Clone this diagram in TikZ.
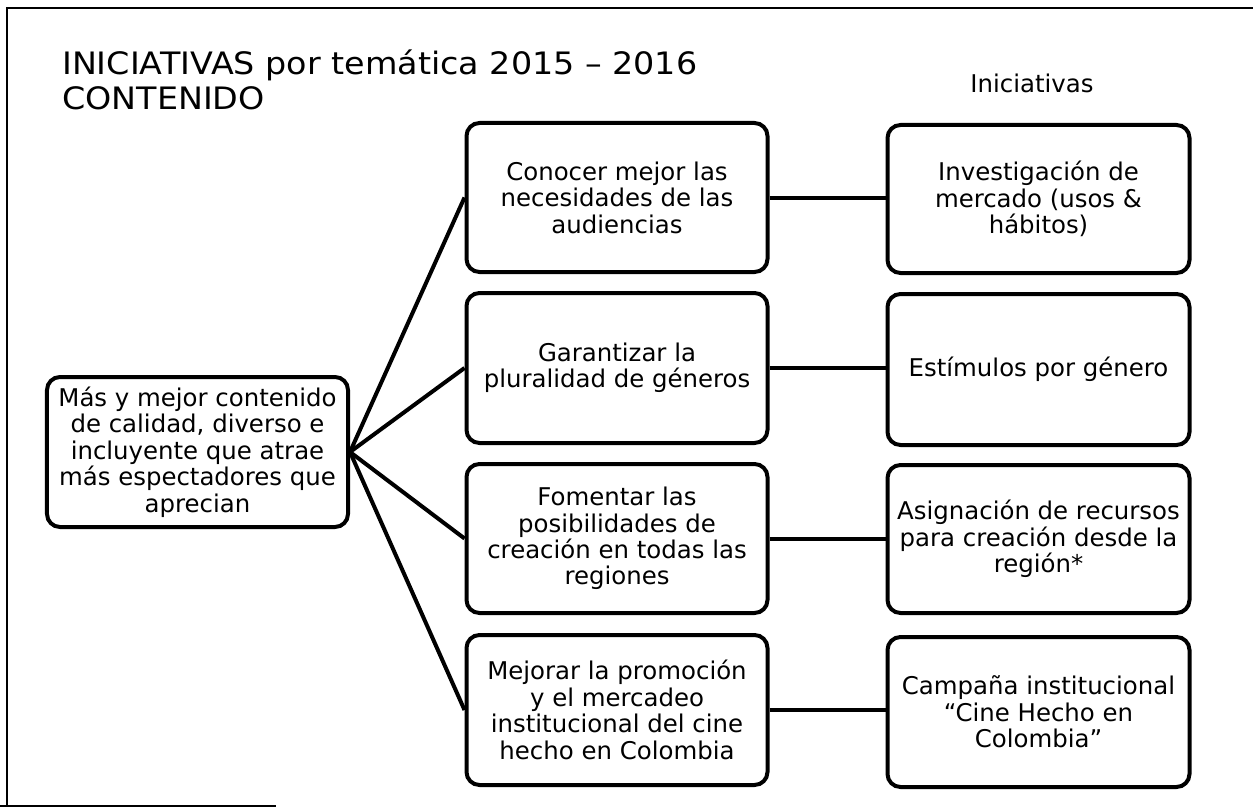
\documentclass[tikz,border=0pt]{standalone}
\usepackage{fontspec}
\setmainfont{DejaVu Sans}
\newfontfamily\titlefont[FakeStretch=1.08]{DejaVu Sans}
\begin{document}
\begin{tikzpicture}[x=1bp,y=-1bp,
  box/.style={draw=black, line width=4bp, rounded corners=13bp, inner sep=0pt, align=center,
    minimum width=301bp, font=\fontsize{24.5}{26.5}\selectfont},
  link/.style={draw=black, line width=4bp},
  frameline/.style={draw=black, line width=1.8bp},
  titletext/.style={anchor=base west, inner sep=0pt, font=\titlefont\fontsize{31}{35}\selectfont}]
\useasboundingbox (0,0) rectangle (1253,808);
\fill[white] (0,0) rectangle (1253,808);
\coordinate (f1) at (7,806);
\coordinate (f2) at (7,8);
\coordinate (f3) at (1253,8);
\coordinate (b1) at (0,806);
\coordinate (b2) at (276,806);
\draw[frameline] (f1) -- (f2) -- (f3);
\draw[frameline] (b1) -- (b2);

\node[titletext] (t1) at (62,75) {INICIATIVAS por temática 2015 – 2016};
\node[titletext] (t2) at (62,110) {CONTENIDO};
\node[inner sep=0pt, font=\fontsize{24.5}{26.5}\selectfont] (hdr) at (1032,83) {Iniciativas};

\node[box, minimum height=150bp] (L) at (197.5,452) {Más y mejor contenido\\de calidad, diverso e\\incluyente que atrae\\más espectadores que\\aprecian};

\node[box, minimum height=149bp] (m1) at (617,197.5) {Conocer mejor las\\necesidades de las\\audiencias};
\node[box, minimum height=150bp] (m2) at (617,368) {Garantizar la\\pluralidad de géneros};
\node[box, minimum height=149bp] (m3) at (617,538.5) {Fomentar las\\posibilidades de\\creación en todas las\\regiones};
\node[box, minimum height=150bp] (m4) at (617,710) {Mejorar la promoción\\y el mercadeo\\institucional del cine\\hecho en Colombia};

\node[box, minimum width=302bp, minimum height=148bp] (r1) at (1038.5,199) {Investigación de\\mercado (usos \&\\hábitos)};
\node[box, minimum width=302bp, minimum height=151bp] (r2) at (1038.5,369.5) {Estímulos por género};
\node[box, minimum width=302bp, minimum height=148bp] (r3) at (1038.5,539) {Asignación de recursos\\para creación desde la\\región*};
\node[box, minimum width=302bp, minimum height=150bp] (r4) at (1038.5,712) {Campaña institucional\\“Cine Hecho en\\Colombia”};

\foreach \i in {1,2,3,4} {
  \draw[link] (L.east) -- (m\i.west);
  \draw[link] (m\i.east) -- (m\i.east -| r\i.west);
}
\end{tikzpicture}
\end{document}
